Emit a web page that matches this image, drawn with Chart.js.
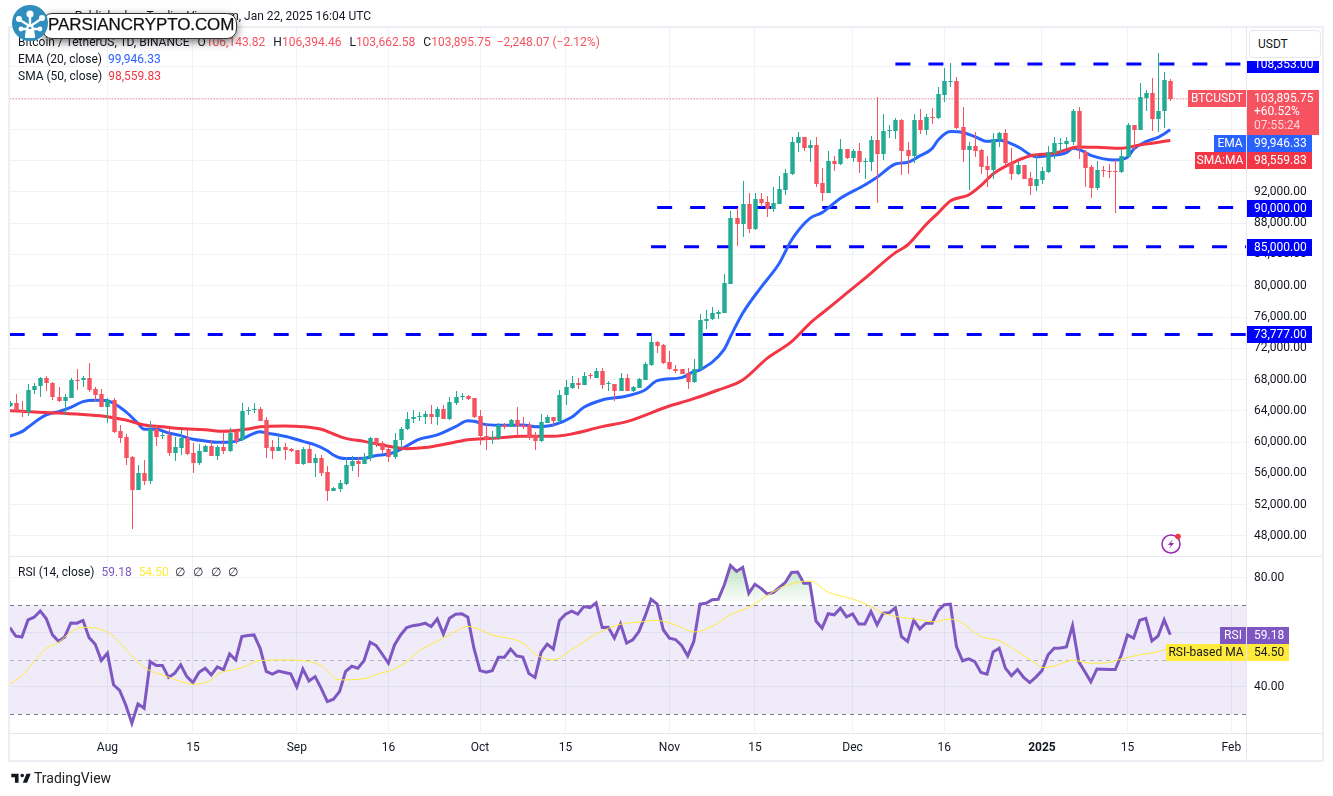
<!DOCTYPE html>
<html>
<head>
<meta charset="utf-8">
<title>BTCUSDT</title>
<script src="https://cdn.jsdelivr.net/npm/chart.js@4"></script>
<style>
  html, body { margin: 0; padding: 0; background: #fff; }
  body { width: 1333px; height: 796px; position: relative; overflow: hidden; font-family: Roboto, sans-serif; font-size: 12px; color: #131722; }
  canvas { position: absolute; left: 0; }
  #priceCanvas { top: 0; }
  #rsiCanvas { top: 557px; }
  .abs { position: absolute; white-space: nowrap; }
  .line { position: absolute; background: #e6e7ee; }
  .lg { position: absolute; white-space: nowrap; line-height: 16px; }
  .lg b { font-weight: 400; margin-left: 8px; }
  .red { color: #f7525f; }
</style>
</head>
<body>
<canvas id="priceCanvas" width="1333" height="557"></canvas>
<canvas id="rsiCanvas" width="1333" height="239"></canvas>

<!-- frame and pane dividers -->
<div class="line" style="left:8px;top:26px;width:1316px;height:2px;background:#eeeff5"></div>
<div class="line" style="left:8px;top:26px;width:2px;height:736px;background:#eeeff5"></div>
<div class="line" style="left:1322px;top:26px;width:2px;height:736px;background:#eeeff5"></div>
<div class="line" style="left:8px;top:760px;width:1316px;height:2px;background:#eeeff5"></div>
<div class="line" style="left:10px;top:556px;width:1312px;height:1px"></div>
<div class="line" style="left:10px;top:733px;width:1312px;height:1px"></div>
<div class="line" style="left:1246px;top:28px;width:1px;height:732px"></div>

<!-- header -->
<div class="abs" style="right:962px;top:8px;line-height:16px">Published on TradingView.com, Jan 22, 2025 16:04 UTC</div>
<div class="lg" style="left:18px;top:34px">Bitcoin / TetherUS, 1D, BINANCE<b>O</b><span class="red">106,143.82</span><b>H</b><span class="red">106,394.46</span><b>L</b><span class="red">103,662.58</span><b>C</b><span class="red">103,895.75</span><b class="red" style="margin-left:6px">−2,248.07 (−2.12%)</b></div>
<div class="lg" style="left:18px;top:51px">EMA (20, close)<b style="color:#2962ff;margin-left:6px">99,946.33</b></div>
<div class="lg" style="left:18px;top:68px">SMA (50, close)<b style="color:#f23645;margin-left:6px">98,559.83</b></div>
<div class="lg" style="left:18px;top:564px">RSI (14, close)<b style="color:#7e57c2;margin-left:7px">59.18</b><b style="color:#ffeb3b;margin-left:7px">54.50</b><b style="margin-left:6px">∅</b><b style="margin-left:8px">∅</b><b style="margin-left:8px">∅</b><b style="margin-left:7px">∅</b></div>

<!-- currency box, the white strip clips the top level tag like the original -->
<div class="abs" style="left:1247px;top:28px;width:75px;height:33px;background:#fff"></div>
<div class="abs" style="left:1249px;top:30px;width:70px;height:26px;background:#fff;border:1px solid #e6e7ee;border-radius:4px;line-height:26px;text-indent:8px">USDT</div>

<!-- site badge -->
<div class="abs" style="left:42px;top:13px;width:193px;height:24px;background:#fff;border:1px solid #333;border-radius:10px;box-shadow:0 3px 9px rgba(0,0,0,.55)"></div>
<div class="abs" style="left:48px;top:15px;font:500 17px/20px 'Liberation Sans',sans-serif;color:#111;letter-spacing:-.1px;-webkit-text-stroke:.25px #111">PARSIANCRYPTO.COM</div>
<svg class="abs" style="left:12px;top:5px" width="38" height="38" viewBox="0 0 38 38">
  <circle cx="18" cy="18" r="18" fill="#2f8ebd"/>
  <path d="M14 32 L16 20 L8 15 M22 32 L20 20 L29 14 M18 22 L18 9 M16 24 L10 24 M20 24 L27 24" stroke="#fff" stroke-width="2.4" fill="none"/>
  <path d="M13 33 L23 33 L20 24 L16 24 Z" fill="#fff"/>
  <circle cx="18" cy="9" r="3.6" fill="#fff"/><circle cx="7" cy="14" r="3" fill="#fff"/><circle cx="30" cy="13" r="3" fill="#fff"/><circle cx="9" cy="24" r="2.4" fill="#fff"/><circle cx="28" cy="24" r="2.4" fill="#fff"/>
</svg>

<!-- alert icon -->
<svg class="abs" style="left:1158px;top:532px" width="26" height="24" viewBox="0 0 26 24">
  <circle cx="13" cy="12" r="9" fill="none" stroke="#9c27b0" stroke-width="1.5"/>
  <path d="M15 7 L10 13 L13 13 L11 17 L16 11 L13 11 Z" fill="#9c27b0"/>
  <circle cx="20" cy="4.5" r="2.8" fill="#f23645"/>
</svg>

<!-- TradingView mark -->
<svg class="abs" style="left:10px;top:770px" width="22" height="17" viewBox="0 0 36 28"><path d="M14 6H2v6h6v9h6V6zm14 15h-7l6-15h7l-6 15zm-8-9a3 3 0 100-6 3 3 0 000 6z" fill="#131722"/></svg>
<div class="abs" style="left:34px;top:770px;font-size:14px;line-height:16px;color:#222">TradingView</div>

<script>
// candles, first one is Jul 16 2024, last one Jan 22 2025
const opens = [
  64600,65000,64000,63900,66700,67200,68250,67600,65800,65250,
  65700,67950,67900,68200,66800,66150,64550,65400,61400,60650,
  58100,53900,56050,55050,61700,60800,60900,58600,59250,60550,
  58600,57350,58750,59500,58250,59400,58900,61300,60300,64050,
  64100,64250,62850,59350,58850,59400,59100,58950,57200,59100,
  57350,57950,56140,53750,54000,54640,57000,57590,57200,57970,
  60530,59890,59120,58150,60300,61700,62950,63200,63250,63650,
  63250,64250,62950,65000,65800,65900,65600,63350,60800,60650,
  60550,62200,61950,62850,62200,62200,60900,60150,62450,63200,
  62650,66050,66950,67550,67300,68600,68200,69100,67550,67400,
  66550,68200,66550,66950,67950,69850,72800,72400,70250,69350,
  69350,68850,67700,69300,75500,75750,76400,76500,80250,88650,
  87900,90450,87250,91100,90700,89800,90450,92250,94300,98250,
  99000,97600,98000,93150,91850,95950,95550,97500,96350,97250,
  95850,95850,98650,96850,99800,99800,101200,97350,96600,101200,
  99900,101600,101500,104400,106150,106200,100260,97370,97880,97360,
  95320,94810,98640,99540,95830,94250,95440,93780,92760,93530,
  94550,96980,98130,98130,98390,102350,97110,95190,92500,94800,
  94680,94680,94550,96470,100560,99920,104000,104650,101330,102350,
  106143.82
];
const highs = [
  65300,66150,65200,67450,67550,68350,68450,67700,67050,66150,
  68250,69400,68400,70100,67050,66750,65600,65600,62200,61000,
  58200,57100,57700,62700,62200,61350,61750,60650,61550,61550,
  59900,59750,59650,60300,59650,61200,61800,61550,65000,64550,
  65000,64500,63200,60300,61150,59900,59250,58950,59350,59750,
  58500,58350,56950,54300,55150,58050,58220,58050,58610,60700,
  60530,60140,59420,61200,62000,63900,64100,63900,64000,64750,
  64550,64750,65800,66550,66250,66000,65600,64100,62300,61450,
  62400,62400,63000,64500,63200,62600,61350,63600,63450,63200,
  66650,67950,68450,68150,68950,68900,69500,69500,67800,67400,
  68850,68700,67200,68250,70250,73700,72950,72550,71650,69850,
  69350,69500,70650,76400,76900,77300,76900,81500,89550,89950,
  93400,91850,91850,91850,91500,92650,94050,94950,99050,99650,
  99000,98650,99000,95050,97250,96600,98750,97500,97500,98250,
  96350,99150,104100,101950,100550,101450,101350,98350,101950,102600,
  101950,102750,105400,107850,108450,106700,102820,98390,99670,97490,
  96600,99500,99670,100050,97620,95830,95440,94550,96730,95190,
  97870,99030,98900,99030,102610,102860,97360,95440,95950,95280,
  95570,96080,97360,100820,100560,105930,105040,106570,109770,107340,
  106394.46
];
const lows = [
  64500,64000,63200,63350,66200,65800,66600,65400,65150,63450,
  65600,66650,67100,66450,65250,64550,62400,61150,59950,57100,
  48950,53900,54500,54700,59500,60350,58200,57650,58350,58350,
  56050,57100,58750,58250,57700,58500,58750,59750,60150,63450,
  63750,62700,57950,57800,58850,57700,58750,57200,57100,57350,
  55550,55650,52470,53700,53620,54560,56300,55540,57200,57630,
  59420,58570,57500,57800,59200,61600,62400,62700,62300,62300,
  62200,62950,62850,64750,65450,65400,63050,59650,58950,59750,
  60250,61700,61950,60950,61700,60300,58950,60050,62450,62050,
  62500,64750,66800,66750,67300,68050,68150,66800,66550,65300,
  66550,66500,66450,66950,67950,69750,71400,70000,69250,68900,
  68700,66800,67500,69200,74500,75600,75750,76500,80250,85100,
  86250,86750,87150,90100,88800,89450,90450,91600,94150,97100,
  97250,95850,92650,90850,91850,94700,95450,96200,95850,94400,
  93650,94700,90600,96100,98900,98750,94150,94300,95700,99400,
  99300,100700,101300,103550,105400,100050,95870,92250,96510,94290,
  92630,93650,97750,95320,93530,94170,93650,91610,92120,93020,
  94420,96210,97110,97490,98000,96210,92630,91230,92250,93910,
  93780,89310,94420,96470,97360,99920,102350,99790,99670,100180,
  103662.58
];
const closes = [
  65000,64000,63900,66700,67200,68250,67500,65800,65250,65800,
  67950,67900,68250,66700,66050,64550,65400,61300,60550,58000,
  53900,56050,55050,61700,60650,60950,58600,59400,60550,58500,
  57350,58850,59500,58250,59400,58900,61150,60150,64000,64150,
  64200,62700,59250,58850,59400,59000,58850,57200,59100,57350,
  57950,56010,53750,54130,54770,57070,57590,57200,58100,60530,
  59760,58990,58140,60300,61700,63000,63250,63400,63650,63250,
  64250,62950,65150,65800,65900,65500,63250,60800,60250,60700,
  62200,62000,62850,62050,61900,60550,60150,62600,63200,62700,
  66050,67050,67550,67300,68450,68450,69100,67300,67600,66550,
  68200,66550,67050,68100,70000,72800,72300,70100,69350,69150,
  68700,67700,69350,75600,75800,76500,76650,80350,88650,87900,
  90450,87250,91100,90600,89800,90600,92400,94400,98400,99000,
  97600,98000,93000,91850,95950,95550,97500,96350,97250,95850,
  95950,98650,96850,99800,99900,101200,97250,96600,101200,99900,
  101600,101450,104500,106200,106200,100150,97370,97880,97230,95190,
  94810,98770,99540,95700,94300,95440,93650,92760,93650,94680,
  97110,98260,98260,98520,102350,97490,95060,92500,94800,94680,
  94550,94550,96600,100560,99920,104140,104650,101330,102350,106320,
  103895.75
];

const emaDays = [0,2,3,5,6,8,10,12,14,16,17,19,21,22,24,26,28,30,32,34,36,38,40,41,42,44,46,48,50,52,53,54,55,58,60,62,64,67,70,73,75,76,78,81,84,86,89,92,94,97,101,104,106,110,112,113,117,118,120,123,126,128,131,133,136,140,142,145,147,149,151,152,154,156,158,160,162,165,168,170,173,174,175,177,181,183,184,186,188,190];
const emaValues = [60750,61340,61900,63050,63500,63900,64450,65180,65350,65300,64970,63900,62400,61640,61640,61170,60830,60360,60150,59980,59980,60400,61130,61340,61170,60900,60570,60100,59640,58900,58350,58010,57900,57930,58300,58480,59080,60360,60920,61980,62750,62660,62240,62150,62200,61980,62200,63180,64450,65390,65900,66670,67860,68250,69020,69230,71900,73490,76480,79800,82870,85850,88620,89350,91180,92890,93870,95570,95790,96600,97530,98640,99710,99600,99070,98470,98600,97790,96510,96640,97020,97580,97450,96680,96090,96430,97450,98430,98980,99946.33];
const smaDays = [0,4,8,12,16,19,22,25,28,32,35,39,41,45,48,51,53,55,58,61,65,68,72,75,79,84,89,92,97,101,108,111,116,120,124,128,131,133,136,140,145,147,150,152,154,157,159,161,164,167,171,175,178,182,185,190];
const smaValues = [64030,63860,63730,63520,63260,62830,62200,61980,61730,61600,61390,61680,61980,62070,61980,61640,61040,60480,60100,59630,59170,59300,59850,60320,60490,60750,60750,61040,61980,62620,64620,65300,66670,67950,70720,72850,75200,76480,78390,80950,84230,85210,87800,89300,90840,91610,92800,94300,95660,96600,96940,97750,97700,97580,98000,98559.83];

// RSI, one value per candle
const rsiValues = [
  61.8,58.7,58.3,64.6,65.6,67.9,65,59.1,56.8,58.3,
  63.5,63.4,64.4,58.1,55.7,49.7,52.4,40.8,38.7,33.4,
  26.7,33.8,32.2,49.3,47.9,47.9,43.5,45,48.1,43.8,
  41.6,45.4,46.9,44.4,47.4,46.3,52.1,49.9,58.5,58.9,
  59.1,54.2,45.7,44.7,45.8,45.3,44.8,40,46.6,42.2,
  43.8,39.5,34.6,35.5,38.3,45.7,47.6,46.9,49.6,56.4,
  55.2,52,48.7,55.4,59.1,61.8,62.5,62.8,63.4,62.2,
  65,59.4,65.2,66.7,66.9,65.6,54.2,46,45.4,46,
  50.9,50.9,53.9,51.4,51,44.9,43.5,52.7,55.7,53.9,
  64.4,66.7,67.8,66.7,69.5,69.1,70.9,61.8,61.9,57.9,
  63.1,56.1,57.3,60.3,65.8,72.2,70.4,61,57.9,57.4,
  55.2,51.4,56.7,70.4,70.7,72,72.2,77.5,84.6,82.4,
  83.9,74.4,77.7,76.2,74.2,74.6,76.5,78.4,82,82.2,
  78.1,78.1,64.2,61.6,66.9,66.5,68.9,65.7,66.8,63.1,
  63.1,67.7,62.8,67.1,67.2,69.1,58.5,56.7,64.4,61.3,
  63.4,63.4,68,70.2,70.4,54.8,49.6,50.3,49.3,45.3,
  44.7,52.8,54.2,46.9,44.1,46.4,43.5,41.6,43.6,46,
  51.8,54.2,54.3,54.7,62.5,49.3,45.7,41.9,46.6,46.5,
  46.4,46.4,51.8,59.1,57.9,64.5,65.2,56.9,58.7,64.6,
  59.18
];
const rsiMaDays = [0,2,4,6,8,10,12,16,18,20,22,26,28,30,33,34,37,38,41,45,48,51,54,58,61,62,65,67,69,72,75,79,84,86,89,92,96,100,103,106,109,112,115,118,121,126,129,131,134,138,141,143,146,149,151,154,156,159,162,165,168,169,171,174,177,180,182,185,188,190];
const rsiMaValues = [41,44.2,49.3,54.2,56.4,60.1,61.9,60.1,56.4,51.4,47.2,43.6,42,41,42.6,44.7,46.5,47.1,49.7,49.9,49.6,47.9,42.6,43,45.3,45.7,49.3,53.2,55.7,59.1,62.2,59.1,56.1,52.1,49.9,53.6,59.4,63,63.8,64.4,62.8,60.2,62.2,66.5,69.3,76.2,78.4,78.9,74.8,72.3,69.5,67.1,65.5,64.7,63.9,64.9,63.4,58.5,57,53,48.7,47.1,47.7,49.8,48.7,49,50.3,51.8,52.9,54.5];

// time axis
const tickDays = [16,30,47,62,77,91,108,122,138,153,169,183,200];
const tickLabels = ['Aug','15','Sep','16','Oct','15','Nov','15','Dec','16','2025','15','Feb'];

// price axis
const priceTicks = [48000,52000,56000,60000,64000,68000,72000,76000,80000,84000,88000,92000,96000,100000,104000,108000];
const hiddenPriceTicks = [96000,100000,104000,108000];
const rsiTicks = [40,60,80];
const rsiBands = [70,50,30];

// horizontal levels drawn by hand on the chart, with first day
const levelValues = [108353,90000,85000,73777];
const levelStart = [145,106,105,0];
const lastPrice = 103895.75;

const GREEN = '#22ab94', RED = '#f7525f', BLUE = '#2962ff', SMA_RED = '#f23645', LEVEL = '#0000ff';
const GRID = '#f0f2f6';
const FONT = 'Roboto';
const lastDay = 202.4;

const days = closes.map((c, i) => i);
const candleColors = closes.map((c, i) => c >= opens[i] ? GREEN : RED);
const pairs = (xs, ys) => xs.map((x, i) => ({ x: x, y: ys[i] }));
const money = v => v.toLocaleString('en-US', { minimumFractionDigits: 2, maximumFractionDigits: 2 });

// label margins eat into the plot area, we want it exact
const noPad = s => { s.paddingTop = 0; s.paddingBottom = 0; s.paddingLeft = 0; s.paddingRight = 0; };

// bars land on whole pixels so the wicks stay 1px
const snapBars = {
  id: 'snapBars',
  afterDatasetsUpdate(chart) {
    chart.getSortedVisibleDatasetMetas().forEach(meta => {
      if (meta.type !== 'bar') return;
      meta.data.forEach(el => {
        el.x = Math.round(el.x) + 0.5;
        el.y = Math.round(el.y);
        el.base = Math.round(el.base);
        if (Math.abs(el.base - el.y) < 1) el.base = el.y + 1;
        el.height = el.base - el.y;
      });
    });
  }
};

function box(ctx, x, y, w, h, color) {
  ctx.fillStyle = color;
  ctx.beginPath();
  ctx.rect(x, y, w, h);
  ctx.fill();
}
function label(ctx, text, x, y, color, align) {
  ctx.fillStyle = color;
  ctx.textAlign = align || 'left';
  ctx.textBaseline = 'middle';
  ctx.fillText(text, x, y);
}

// price labels on the right hand side
const priceTags = {
  id: 'priceTags',
  afterDraw(chart) {
    const ctx = chart.ctx, y = chart.scales.y;
    ctx.save();
    ctx.font = '12px ' + FONT;
    levelValues.forEach(v => {
      const py = Math.round(y.getPixelForValue(v));
      const wide = v > 100000;
      box(ctx, 1246, py - 8, wide ? 73 : 66, 17, LEVEL);
      label(ctx, money(v), 1254, py + 0.5, '#fff');
    });
    box(ctx, 1188, 90, 58, 17, RED);
    label(ctx, 'BTCUSDT', 1217, 98.5, '#fff', 'center');
    box(ctx, 1246, 90, 73, 45, RED);
    label(ctx, money(lastPrice), 1254, 98.5, '#fff');
    label(ctx, '+60.52%', 1254, 112, '#fff');
    label(ctx, '07:55:24', 1254, 126, 'rgba(255,255,255,.75)');
    box(ctx, 1214, 135, 32, 17, BLUE);
    label(ctx, 'EMA', 1230, 143.5, '#fff', 'center');
    box(ctx, 1246, 135, 66, 17, BLUE);
    label(ctx, money(emaValues[emaValues.length - 1]), 1254, 143.5, '#fff');
    box(ctx, 1195, 152, 51, 17, SMA_RED);
    label(ctx, 'SMA:MA', 1220, 160.5, '#fff', 'center');
    box(ctx, 1246, 152, 66, 17, SMA_RED);
    label(ctx, money(smaValues[smaValues.length - 1]), 1254, 160.5, '#fff');
    ctx.restore();
  }
};

// RSI band behind the lines
const rsiBand = {
  id: 'rsiBand',
  beforeDatasetsDraw(chart) {
    const ctx = chart.ctx, y = chart.scales.y, a = chart.chartArea;
    ctx.save();
    const top = y.getPixelForValue(rsiBands[0]), bot = y.getPixelForValue(rsiBands[2]);
    ctx.fillStyle = 'rgba(126,87,194,.12)';
    ctx.fillRect(a.left, top, a.width, bot - top);
    ctx.lineWidth = 1;
    ctx.setLineDash([4, 4]);
    rsiBands.forEach(v => {
      const py = Math.round(y.getPixelForValue(v)) + 0.5;
      ctx.strokeStyle = v === 50 ? 'rgba(120,123,134,.5)' : '#787b86';
      ctx.beginPath();
      ctx.moveTo(a.left, py);
      ctx.lineTo(a.right, py);
      ctx.stroke();
    });
    ctx.restore();
  }
};
const rsiTags = {
  id: 'rsiTags',
  afterDraw(chart) {
    const ctx = chart.ctx;
    ctx.save();
    ctx.font = '12px ' + FONT;
    box(ctx, 1220, 70, 26, 17, '#7e57c2');
    label(ctx, 'RSI', 1233, 78.5, '#fff', 'center');
    box(ctx, 1246, 70, 43, 17, '#7e57c2');
    label(ctx, rsiValues[rsiValues.length - 1].toFixed(2), 1254, 78.5, '#fff');
    box(ctx, 1166, 87, 80, 17, '#ffeb3b');
    label(ctx, 'RSI-based MA', 1206, 95.5, '#131722', 'center');
    box(ctx, 1246, 87, 43, 17, '#ffeb3b');
    label(ctx, rsiMaValues[rsiMaValues.length - 1].toFixed(2), 1254, 95.5, '#131722');
    ctx.restore();
  }
};

const levelSets = levelValues.map((v, i) => ({
  type: 'line',
  data: [{ x: levelStart[i], y: v }, { x: lastDay, y: v }],
  borderColor: LEVEL, borderWidth: 3, borderDash: [15, 18], pointRadius: 0
}));

new Chart(document.getElementById('priceCanvas'), {
  type: 'bar',
  data: {
    datasets: [
      { // wicks
        grouped: false, maxBarThickness: 1,
        data: days.map(i => ({ x: i, y: [lows[i], highs[i]] })),
        backgroundColor: candleColors
      },
      { // bodies
        grouped: false, maxBarThickness: 5,
        data: days.map(i => ({ x: i, y: [opens[i], closes[i]] })),
        backgroundColor: candleColors
      },
      {
        type: 'line', data: [{ x: 0, y: lastPrice }, { x: 193, y: lastPrice }],
        borderColor: RED, borderWidth: 1, borderDash: [1, 2], pointRadius: 0
      },
      {
        type: 'line', data: pairs(smaDays, smaValues), borderColor: SMA_RED, borderWidth: 3,
        pointRadius: 0, cubicInterpolationMode: 'monotone'
      },
      {
        type: 'line', data: pairs(emaDays, emaValues), borderColor: BLUE, borderWidth: 3,
        pointRadius: 0, cubicInterpolationMode: 'monotone'
      }
    ].concat(levelSets)
  },
  options: {
    responsive: false,
    animation: false,
    layout: { padding: { left: 10, top: 27, right: 11, bottom: 1 } },
    plugins: { legend: { display: false }, tooltip: { enabled: false } },
    scales: {
      x: {
        type: 'linear', min: 0.05, max: lastDay, offset: false,
        grid: { color: GRID, offset: false, drawTicks: false },
        border: { display: false },
        ticks: { display: false },
        afterBuildTicks: s => { s.ticks = tickDays.map(v => ({ value: v })); },
        afterFit: s => { s.height = 0; noPad(s); }
      },
      y: {
        position: 'right', min: 45440, max: 113087,
        grid: { color: GRID, drawTicks: false },
        border: { display: false },
        ticks: {
          color: '#131722', padding: 8, font: { family: FONT, size: 12 },
          callback: v => hiddenPriceTicks.includes(v) ? '' : money(v)
        },
        afterBuildTicks: s => { s.ticks = priceTicks.map(v => ({ value: v })); },
        afterFit: s => { s.width = 76; noPad(s); }
      }
    }
  },
  plugins: [snapBars, priceTags]
});

const rsiCanvas = document.getElementById('rsiCanvas');
const rsiGlow = rsiCanvas.getContext('2d').createLinearGradient(0, 8, 0, 48);
rsiGlow.addColorStop(0, 'rgba(76,175,80,.35)');
rsiGlow.addColorStop(1, 'rgba(76,175,80,0)');

new Chart(rsiCanvas, {
  type: 'line',
  data: {
    datasets: [
      {
        data: pairs(rsiMaDays, rsiMaValues), borderColor: '#ffeb3b', borderWidth: 1,
        pointRadius: 0, cubicInterpolationMode: 'monotone'
      },
      {
        data: pairs(days, rsiValues), borderColor: '#7e57c2', borderWidth: 3, pointRadius: 0,
        fill: { target: { value: 70 }, above: rsiGlow, below: 'transparent' }
      }
    ]
  },
  options: {
    responsive: false,
    animation: false,
    layout: { padding: { left: 10, top: 0, right: 11, bottom: 36 } },
    plugins: { legend: { display: false }, tooltip: { enabled: false } },
    scales: {
      x: {
        type: 'linear', min: 0.05, max: lastDay,
        grid: { color: GRID, drawTicks: false },
        border: { display: false },
        ticks: {
          color: '#131722', padding: 8, autoSkip: false, maxRotation: 0,
          font: ctx => ({ family: FONT, size: 12, weight: ctx.tick && ctx.tick.value === 169 ? 'bold' : 'normal' }),
          callback: v => tickLabels[tickDays.indexOf(v)]
        },
        afterBuildTicks: s => { s.ticks = tickDays.map(v => ({ value: v })); },
        afterFit: s => { s.height = 27; noPad(s); }
      },
      y: {
        position: 'right', min: 23.1, max: 87.7,
        grid: { color: GRID, drawTicks: false },
        border: { display: false },
        ticks: {
          color: '#131722', padding: 8, font: { family: FONT, size: 12 },
          callback: v => v === 60 ? '' : v.toFixed(2)
        },
        afterBuildTicks: s => { s.ticks = rsiTicks.map(v => ({ value: v })); },
        afterFit: s => { s.width = 76; noPad(s); }
      }
    }
  },
  plugins: [rsiBand, rsiTags]
});
</script>
</body>
</html>
